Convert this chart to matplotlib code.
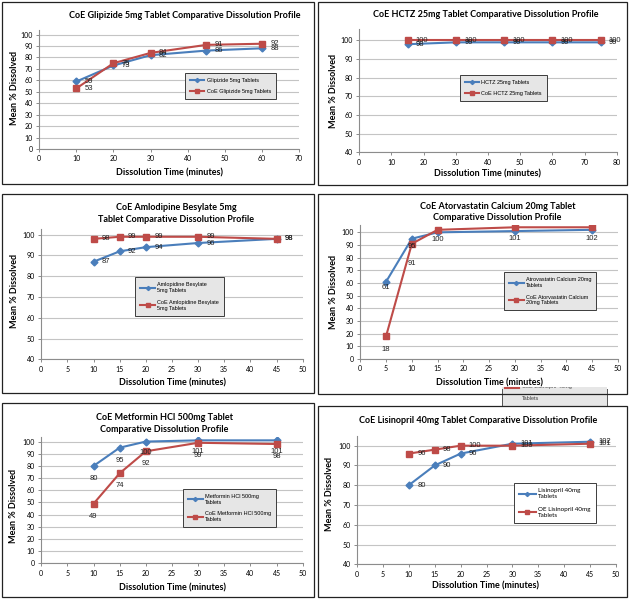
import matplotlib
matplotlib.use("Agg")
import matplotlib.pyplot as plt
from matplotlib.patches import Rectangle
from matplotlib.transforms import Bbox, TransformedBbox

W, H = 631, 599

# ---- data ----
glip_t = [10, 20, 30, 45, 60]
glip_ref = [59, 73, 82, 86, 88]
glip_coe = [53, 75, 84, 91, 92]

hctz_t = [15, 30, 45, 60, 75]
hctz_ref = [98, 99, 99, 99, 99]
hctz_coe = [100, 100, 100, 100, 100]

amlo_t = [10, 15, 20, 30, 45]
amlo_ref = [87, 92, 94, 96, 98]
amlo_coe = [98, 99, 99, 99, 98]

ator_t = [5, 10, 15, 30, 45]
ator_ref = [61, 95, 100, 101, 102]
ator_coe = [18, 91, 102, 104, 104]

metf_t = [10, 15, 20, 30, 45]
metf_ref = [80, 95, 100, 101, 101]
metf_coe = [49, 74, 92, 99, 98]

lisi_t = [10, 15, 20, 30, 45]
lisi_ref = [80, 90, 96, 101, 102]
lisi_coe = [96, 98, 100, 100, 101]

BLUE = "#4a7ebb"
RED = "#be4b48"
TFONT = "Lato"
LFONT = "Liberation Sans"


def px_rect(x0, y0, x1, y1):
    return [x0 / W, 1 - y1 / H, (x1 - x0) / W, (y1 - y0) / H]


def ftext(x, y, s, **kw):
    return fig.text(x / W, 1 - y / H, s, ha="center", va="center", **kw)


fig = plt.figure(figsize=(W / 100, H / 100), dpi=100)

panels = [
    dict(box=(2, 2, 314, 184), area=(39.3, 30, 299, 149),
         t=glip_t, ref=glip_ref, coe=glip_coe,
         xlim=(0, 70), xstep=10, ylim=(0, 104), yticks=range(0, 101, 10),
         title=["CoE Glipizide 5mg Tablet Comparative Dissolution Profile"],
         tpos=(185, [15.7]), ylab=(15, 87.5), xlab=(169.5, 173.3),
         names=["Glipizide 5mg Tablets", "CoE Glipizide 5mg Tablets"],
         leg=(0.736, 0.53), legbg="#e6e6e6", legfont=LFONT, legsize=4,
         lab="right", ref_off=None, coe_off=None),
    dict(box=(318, 2, 627, 184.5), area=(359.3, 29.3, 616.7, 152.3),
         t=hctz_t, ref=hctz_ref, coe=hctz_coe,
         xlim=(0, 80), xstep=10, ylim=(40, 106), yticks=range(40, 101, 10),
         title=["CoE HCTZ 25mg Tablet Comparative Dissolution Profile"],
         tpos=(486, [14.7]), ylab=(333.3, 91), xlab=(488, 174),
         names=["HCTZ 25mg Tablets", "CoE HCTZ 25mg Tablets"],
         leg=(0.559, 0.524), legbg="#e6e6e6", legfont=LFONT, legsize=4,
         lab="right", ref_off=None, coe_off=None),
    dict(box=(2, 194.3, 314, 393.3), area=(41.3, 229.3, 302.7, 359.3),
         t=amlo_t, ref=amlo_ref, coe=amlo_coe,
         xlim=(0, 50), xstep=5, ylim=(40, 102.6), yticks=range(40, 101, 10),
         title=["CoE Amlodipine Besylate 5mg",
                "Tablet Comparative Dissolution Profile"],
         tpos=(176, [207.3, 219.3]), ylab=(15, 291), xlab=(172, 383.3),
         names=["Amlopidine Besylate\n5mg Tablets",
                "CoE Amlopidine Besylate\n5mg Tablets"],
         leg=(0.529, 0.483), legbg="#e6e6e6", legfont=LFONT, legsize=4,
         lab="right", ref_off=None, coe_off=None),
    dict(box=(318, 194.3, 627, 393.8), area=(360.3, 225, 618, 359),
         t=ator_t, ref=ator_ref, coe=ator_coe,
         xlim=(0, 50), xstep=5, ylim=(0, 105.8), yticks=range(0, 101, 10),
         title=["CoE Atorvastatin Calcium 20mg Tablet",
                "Comparative Dissolution Profile"],
         tpos=(497.5, [206.7, 217.3]), ylab=(333.3, 291.7), xlab=(489, 382.7),
         names=["Atrovastatin Calcium 20mg\nTablets",
                "CoE Atorvastatin Calcium\n20mg Tablets"],
         leg=(0.737, 0.506), legbg="#e6e6e6", legfont=LFONT, legsize=4,
         lab="below", ref_off=[4, 5.5, 5, 5.5, 6], coe_off=[9.6, 14, None, None, None]),
    dict(box=(2, 402.7, 314, 597), area=(41.3, 436.7, 302.7, 563.3),
         t=metf_t, ref=metf_ref, coe=metf_coe,
         xlim=(0, 50), xstep=5, ylim=(0, 104), yticks=range(0, 101, 10),
         title=["CoE Metformin HCl 500mg Tablet",
                "Comparative Dissolution Profile"],
         tpos=(164, [417.3, 429]), ylab=(14, 505.8), xlab=(172.3, 588.3),
         names=["Metformin HCl 500mg\nTablets", "CoE Metformin HCl 500mg\nTablets"],
         leg=(0.72, 0.437), legbg="#e6e6e6", legfont=LFONT, legsize=4,
         lab="below", ref_off=[9, 9, 8, 8, 8], coe_off=[9, 9, 9, 9, 9]),
    dict(box=(318, 405.7, 627, 597), area=(357, 436, 616, 564.3),
         t=lisi_t, ref=lisi_ref, coe=lisi_coe,
         xlim=(0, 50), xstep=5, ylim=(40, 104.9), yticks=range(40, 101, 10),
         title=["CoE Lisinopril 40mg Tablet Comparative Dissolution Profile"],
         tpos=(477.7, [420.7]), ylab=(330, 494), xlab=(486, 585.7),
         names=["Lisinopril 40mg\nTablets", "OE Lisinopril 40mg\nTablets"],
         leg=(0.764, 0.478), legbg="white", legfont=TFONT, legsize=4.5,
         lab="right", ref_off=None, coe_off=None),
]

for p in panels:
    ax = fig.add_axes(px_rect(*p["area"]))
    ax.plot(p["t"], p["ref"], color=BLUE, lw=1.5, marker="D", ms=3.5,
            label=p["names"][0], zorder=3)
    ax.plot(p["t"], p["coe"], color=RED, lw=1.5, marker="s", ms=5,
            label=p["names"][1], zorder=3)

    for vals, offs in ((p["ref"], p["ref_off"]), (p["coe"], p["coe_off"])):
        for i, (x, y) in enumerate(zip(p["t"], vals)):
            if p["lab"] == "right":
                ax.annotate(str(y), (x, y), xytext=(6, 0), textcoords="offset points",
                            ha="left", va="center", fontsize=5.5, family=LFONT,
                            color="#222222", zorder=4)
            elif offs[i] is not None:
                ax.annotate(str(y), (x, y), xytext=(0, -offs[i]), textcoords="offset points",
                            ha="center", va="center", fontsize=5.5, family=LFONT,
                            color="#222222", zorder=4)

    ax.set_xlim(*p["xlim"])
    ax.set_ylim(*p["ylim"])
    ax.set_xticks(range(p["xlim"][0], p["xlim"][1] + 1, p["xstep"]))
    ax.set_yticks(list(p["yticks"]))
    ax.grid(axis="y", color="#c4c4c4", lw=0.8)
    ax.set_axisbelow(True)
    for s in ("top", "right"):
        ax.spines[s].set_visible(False)
    for s in ("left", "bottom"):
        ax.spines[s].set_color("#8c8c8c")
        ax.spines[s].set_linewidth(0.8)
    ax.tick_params(direction="out", length=2.5, width=0.7, color="#8c8c8c",
                   labelsize=5, pad=2)
    for lbl in ax.get_xticklabels() + ax.get_yticklabels():
        lbl.set_family(TFONT)

    leg = ax.legend(loc="center", bbox_to_anchor=p["leg"], fancybox=False,
                    prop={"family": p["legfont"], "size": p["legsize"]},
                    handlelength=2.6, handletextpad=0.4, labelspacing=1.2,
                    borderpad=0.9, markerscale=0.6, framealpha=1)
    leg.get_frame().set_facecolor(p["legbg"])
    leg.get_frame().set_edgecolor("#3c3c3c")
    leg.get_frame().set_linewidth(0.7)

    tx, tys = p["tpos"]
    for line, ty in zip(p["title"], tys):
        ftext(tx, ty, line, family=TFONT, weight="bold", fontsize=6.5)
    ftext(*p["ylab"], "Mean % Dissolved", family=TFONT, weight="bold",
          fontsize=6.5, rotation=90)
    ftext(*p["xlab"], "Dissolution Time (minutes)", family=TFONT, weight="bold",
          fontsize=6.5)

# stray legend box from the lisinopril chart peeking out above its panel
sx0, sy0, sx1, sy1 = 502, 387, 607, 406
fig.add_artist(Rectangle((sx0 / W, 1 - sy1 / H), (sx1 - sx0) / W, (sy1 - sy0) / H,
                         transform=fig.transFigure, facecolor="#e6e6e6",
                         edgecolor="none", zorder=5))
for xs, ys in (([sx0, sx0], [389, sy1]), ([sx1, sx1], [389, sy1]), ([sx0, sx1], [sy1, sy1])):
    fig.add_artist(plt.Line2D([x / W for x in xs], [1 - y / H for y in ys], color="#555555",
                              lw=0.7, transform=fig.transFigure, zorder=6))
fig.add_artist(plt.Line2D([505 / W, 519 / W], [1 - 387.5 / H] * 2, color=RED, lw=1.5,
                          transform=fig.transFigure, zorder=6))
clip = TransformedBbox(Bbox([[sx0 / W, 1 - sy1 / H], [sx1 / W, 1 - sy0 / H]]), fig.transFigure)
t = fig.text(522 / W, 1 - 386.5 / H, "CoE Lisinopril 40mg", fontsize=4, family=LFONT,
             color="#444444", va="center", zorder=6)
t.set_clip_box(clip)
t.set_clip_on(True)
fig.text(522 / W, 1 - 398.5 / H, "Tablets", fontsize=4, family=LFONT,
         color="#444444", va="center", zorder=6)

# panel borders
for p in panels:
    x0, y0, x1, y1 = p["box"]
    fig.add_artist(Rectangle((x0 / W, 1 - y1 / H), (x1 - x0) / W, (y1 - y0) / H,
                             transform=fig.transFigure, fill=False,
                             edgecolor="#222222", lw=0.9, zorder=7))

fig.savefig("out.png", dpi=100, facecolor="white")
